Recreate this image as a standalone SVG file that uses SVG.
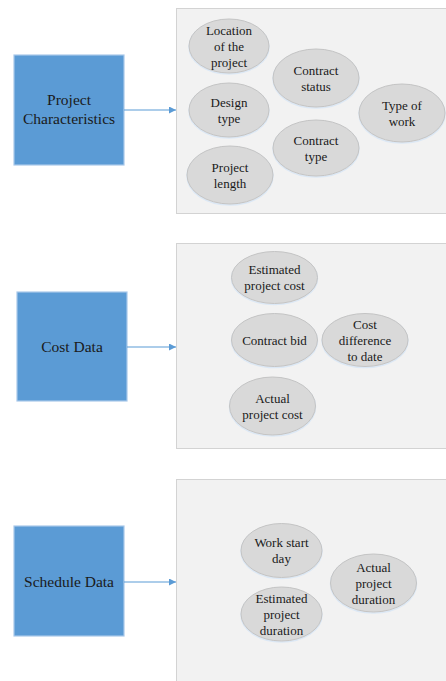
<svg xmlns="http://www.w3.org/2000/svg" width="446" height="681" viewBox="0 0 446 681">
  <defs>
    <style>
      .panel { fill: #F2F2F2; stroke: #D3D3D3; stroke-width: 1; }
      .box { fill: #5B9BD5; stroke: #A9C8EA; stroke-width: 1.2; }
      .boxtxt { font-family: 'Liberation Serif', 'DejaVu Serif', serif; font-size: 15.5px; fill: #1A1A1A; text-anchor: middle; }
      .oval { fill: #D9D9D9; stroke: #C4C4C4; stroke-width: 1; }
      .oval-shadow { fill: none; stroke: #DCE8F5; stroke-width: 1.5; }
      .ovaltxt { font-family: 'Liberation Serif', 'DejaVu Serif', serif; font-size: 13px; fill: #1A1A1A; text-anchor: middle; }
      .link { stroke: #5B9BD5; stroke-width: 1.1; fill: none; }
    </style>
    <marker id="arrow" viewBox="0 0 10 10" refX="10" refY="5" markerWidth="7" markerHeight="7" markerUnits="userSpaceOnUse" orient="auto">
      <path d="M0,0 L10,5 L0,10 z" fill="#5B9BD5"/>
    </marker>
  </defs>

  <!-- container panels -->
  <g id="panel-characteristics"><rect class="panel" x="176.5" y="8.5" width="280" height="205"/></g>
  <g id="panel-cost"><rect class="panel" x="176.5" y="243.5" width="280" height="205"/></g>
  <g id="panel-schedule"><rect class="panel" x="176.5" y="479.5" width="280" height="215"/></g>

  <!-- category boxes -->
  <g id="project-characteristics">
    <rect class="box" x="14" y="55" width="110" height="110"/>
    <text class="boxtxt" x="69" y="105">Project</text>
    <text class="boxtxt" x="69" y="124">Characteristics</text>
  </g>
  <g id="cost-data">
    <rect class="box" x="17" y="292" width="110" height="109"/>
    <text class="boxtxt" x="72" y="352">Cost Data</text>
  </g>
  <g id="schedule-data">
    <rect class="box" x="14" y="526" width="110" height="110"/>
    <text class="boxtxt" x="69" y="587">Schedule Data</text>
  </g>

  <!-- connectors -->
  <g id="connectors">
    <line class="link" x1="124" y1="110" x2="176" y2="110" marker-end="url(#arrow)"/>
    <line class="link" x1="127" y1="347" x2="176" y2="347" marker-end="url(#arrow)"/>
    <line class="link" x1="124" y1="582" x2="176" y2="582" marker-end="url(#arrow)"/>
  </g>

  <!-- project characteristics attributes -->
  <g id="location">
    <ellipse class="oval-shadow" cx="229" cy="47" rx="40" ry="27"/>
    <ellipse class="oval" cx="229" cy="46" rx="40" ry="27"/>
    <text class="ovaltxt" x="229" y="34.5">Location</text>
    <text class="ovaltxt" x="229" y="50.5">of the</text>
    <text class="ovaltxt" x="229" y="66.5">project</text>
  </g>
  <g id="contract-status">
    <ellipse class="oval-shadow" cx="316" cy="79" rx="43" ry="29"/>
    <ellipse class="oval" cx="316" cy="78" rx="43" ry="29"/>
    <text class="ovaltxt" x="316" y="74.5">Contract</text>
    <text class="ovaltxt" x="316" y="90.5">status</text>
  </g>
  <g id="design-type">
    <ellipse class="oval-shadow" cx="229" cy="111" rx="40" ry="27"/>
    <ellipse class="oval" cx="229" cy="110" rx="40" ry="27"/>
    <text class="ovaltxt" x="229" y="106.5">Design</text>
    <text class="ovaltxt" x="229" y="122.5">type</text>
  </g>
  <g id="type-of-work">
    <ellipse class="oval-shadow" cx="402" cy="114" rx="43" ry="29"/>
    <ellipse class="oval" cx="402" cy="113" rx="43" ry="29"/>
    <text class="ovaltxt" x="402" y="109.5">Type of</text>
    <text class="ovaltxt" x="402" y="125.5">work</text>
  </g>
  <g id="contract-type">
    <ellipse class="oval-shadow" cx="316" cy="149" rx="43" ry="28"/>
    <ellipse class="oval" cx="316" cy="148" rx="43" ry="28"/>
    <text class="ovaltxt" x="316" y="145">Contract</text>
    <text class="ovaltxt" x="316" y="161">type</text>
  </g>
  <g id="project-length">
    <ellipse class="oval-shadow" cx="230" cy="176" rx="43" ry="29"/>
    <ellipse class="oval" cx="230" cy="175" rx="43" ry="29"/>
    <text class="ovaltxt" x="230" y="171.5">Project</text>
    <text class="ovaltxt" x="230" y="187.5">length</text>
  </g>

  <!-- cost attributes -->
  <g id="estimated-cost">
    <ellipse class="oval-shadow" cx="274.5" cy="278.5" rx="43" ry="26"/>
    <ellipse class="oval" cx="274.5" cy="277.5" rx="43" ry="26"/>
    <text class="ovaltxt" x="274.5" y="273.5">Estimated</text>
    <text class="ovaltxt" x="274.5" y="289.5">project cost</text>
  </g>
  <g id="contract-bid">
    <ellipse class="oval-shadow" cx="274.5" cy="341" rx="43" ry="26.5"/>
    <ellipse class="oval" cx="274.5" cy="340" rx="43" ry="26.5"/>
    <text class="ovaltxt" x="274.5" y="344.5">Contract bid</text>
  </g>
  <g id="cost-difference">
    <ellipse class="oval-shadow" cx="365" cy="341" rx="43" ry="26.5"/>
    <ellipse class="oval" cx="365" cy="340" rx="43" ry="26.5"/>
    <text class="ovaltxt" x="365" y="328.5">Cost</text>
    <text class="ovaltxt" x="365" y="344.5">difference</text>
    <text class="ovaltxt" x="365" y="360.5">to date</text>
  </g>
  <g id="actual-cost">
    <ellipse class="oval-shadow" cx="272.5" cy="407" rx="43" ry="29"/>
    <ellipse class="oval" cx="272.5" cy="406" rx="43" ry="29"/>
    <text class="ovaltxt" x="272.5" y="402.5">Actual</text>
    <text class="ovaltxt" x="272.5" y="418.5">project cost</text>
  </g>

  <!-- schedule attributes -->
  <g id="work-start">
    <ellipse class="oval-shadow" cx="281.5" cy="551.5" rx="40.5" ry="27"/>
    <ellipse class="oval" cx="281.5" cy="550.5" rx="40.5" ry="27"/>
    <text class="ovaltxt" x="281.5" y="547">Work start</text>
    <text class="ovaltxt" x="281.5" y="563">day</text>
  </g>
  <g id="estimated-duration">
    <ellipse class="oval-shadow" cx="281.5" cy="615" rx="40.5" ry="27"/>
    <ellipse class="oval" cx="281.5" cy="614" rx="40.5" ry="27"/>
    <text class="ovaltxt" x="281.5" y="602.5">Estimated</text>
    <text class="ovaltxt" x="281.5" y="618.5">project</text>
    <text class="ovaltxt" x="281.5" y="634.5">duration</text>
  </g>
  <g id="actual-duration">
    <ellipse class="oval-shadow" cx="373.5" cy="584" rx="43" ry="29"/>
    <ellipse class="oval" cx="373.5" cy="583" rx="43" ry="29"/>
    <text class="ovaltxt" x="373.5" y="571.5">Actual</text>
    <text class="ovaltxt" x="373.5" y="587.5">project</text>
    <text class="ovaltxt" x="373.5" y="603.5">duration</text>
  </g>
</svg>
